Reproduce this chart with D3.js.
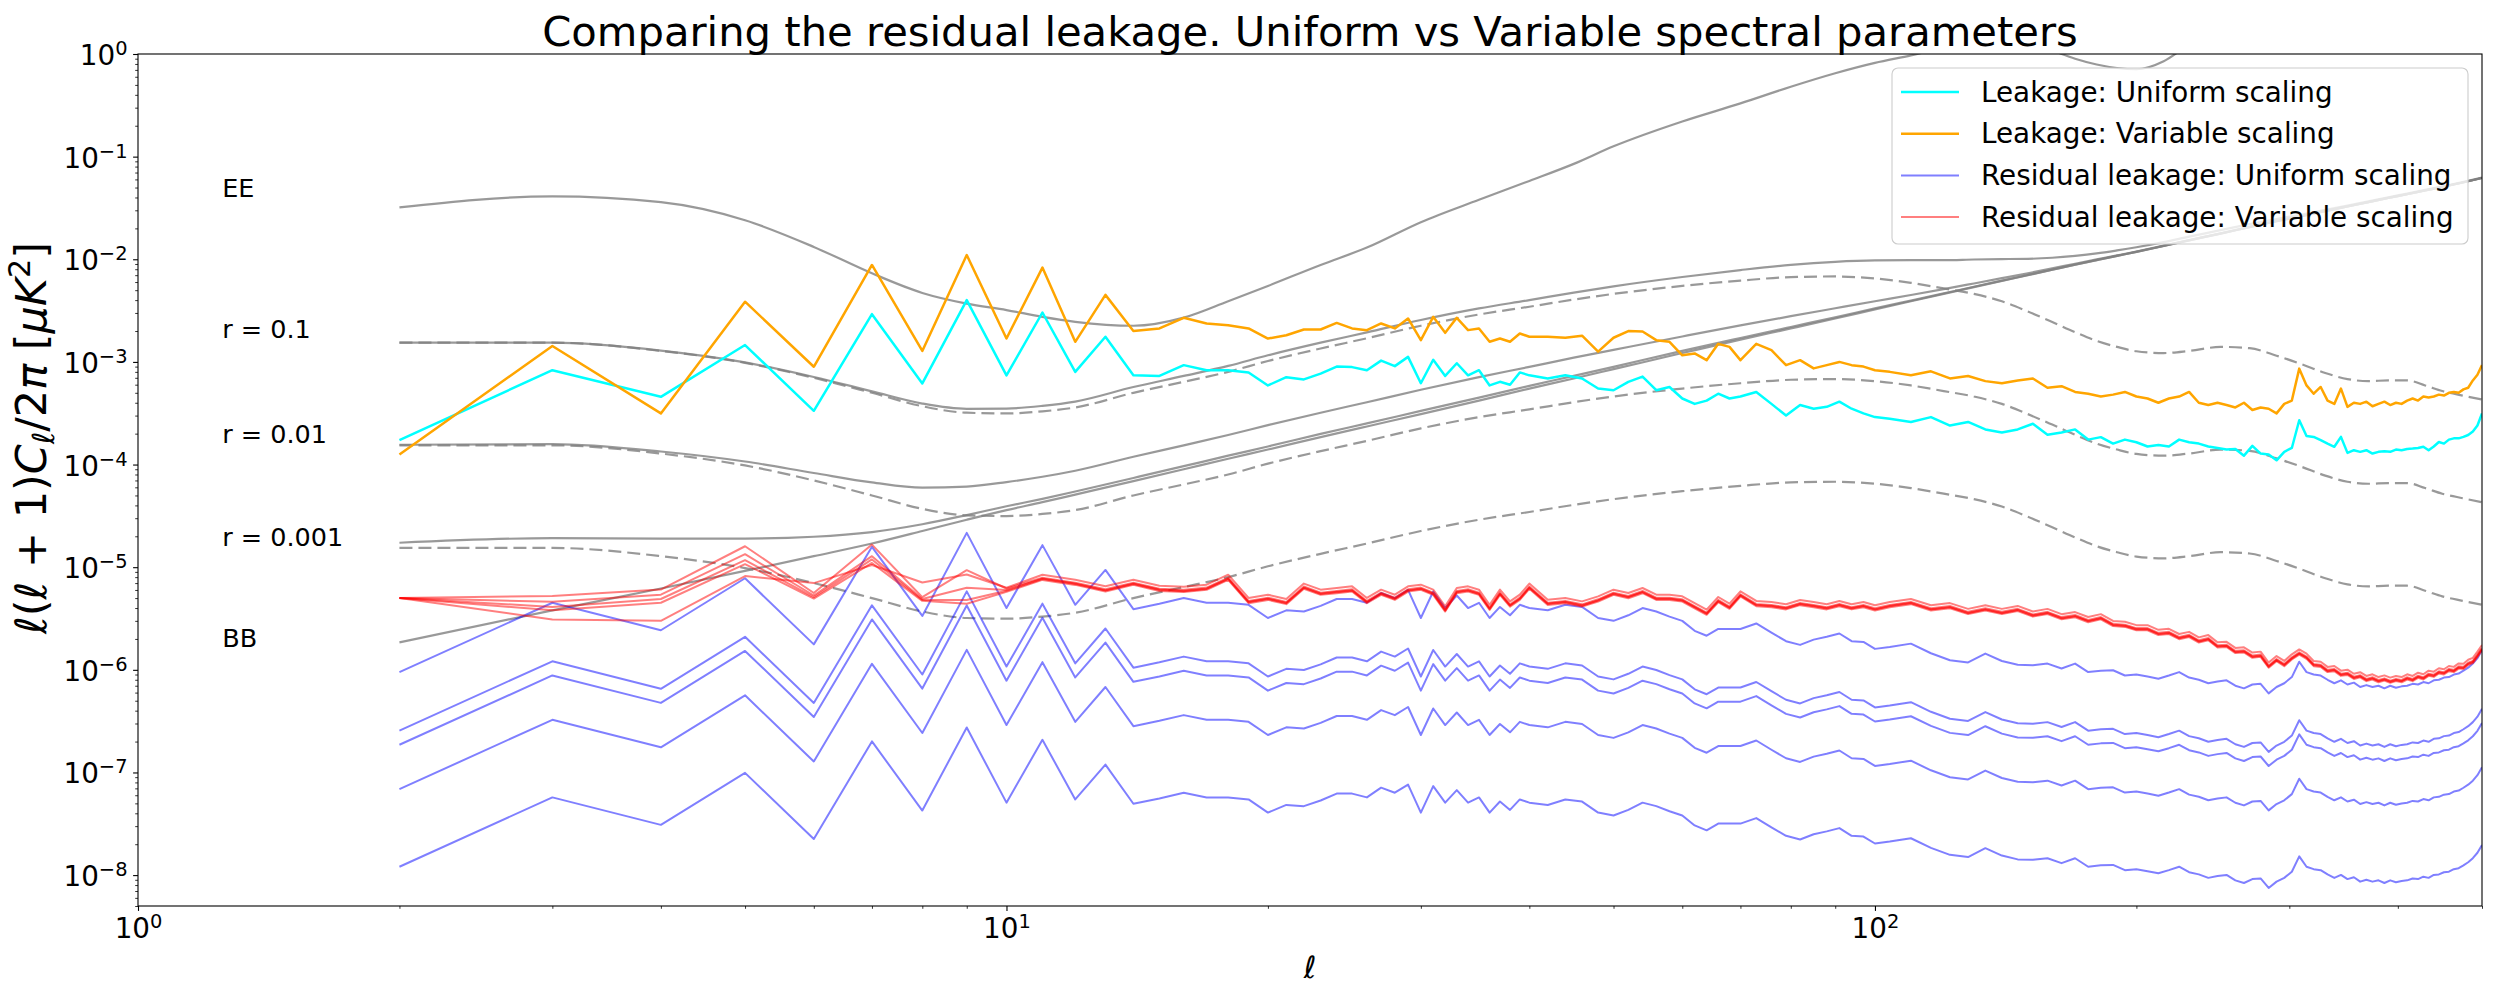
<!DOCTYPE html>
<html>
<head>
<meta charset="utf-8">
<script src="https://cdn.jsdelivr.net/npm/d3@7"></script>
<style>
body { margin: 0; background: #fff; }
svg { font-family: "DejaVu Sans", sans-serif; }
</style>
</head>
<body>
<svg id="chart"></svg>
<script>
// multipoles of the leakage spectra
let ell = [2,3,4,5,6,7,8,9,10,11,12,13,14,15,16,17,18,19,20,21,22,23,24,25,26,27,28,29,30,31,32,33,34,35,36,37,38,39,40,
  42,44,46,48,50,52,54,56,58,60,62,64,66,68,70,
  73,76,79,82,85,88,91,94,97,100,
  104,110,116,122,128,134,140,146,152,158,164,170,176,182,188,194,200,206,212,218,224,230,236,242,248,254,260,266,272,278,
  284,290,296,302,308,314,320,326,332,338,344,350,356,362,368,374,380,386,392,398,404,410,416,422,428,434,440,446,452,458,
  464,470,476,482,488,494,500];

let leakUniform = [1.73e-4,8.3e-4,4.57e-4,1.46e-3,3.34e-4,2.92e-3,6.17e-4,4.0e-3,7.4e-4,3.03e-3,8.0e-4,1.76e-3,7.4e-4,7.3e-4,9.3e-4,8.3e-4,8.3e-4,7.9e-4,5.9e-4,7.1e-4,
  6.75e-4,7.7e-4,9.0e-4,8.9e-4,8.3e-4,1.03e-3,9.1e-4,1.12e-3,6.2e-4,1.05e-3,7.3e-4,9.7e-4,7.4e-4,8.3e-4,5.9e-4,6.4e-4,6.0e-4,7.9e-4,7.4e-4,
  6.9e-4,7.4e-4,6.9e-4,5.5e-4,5.3e-4,6.4e-4,7.2e-4,5.3e-4,5.7e-4,4.4e-4,3.9e-4,4.2e-4,4.9e-4,4.4e-4,4.6e-4,
  5.1e-4,3.9e-4,3.0e-4,3.8e-4,3.5e-4,3.65e-4,4.1e-4,3.5e-4,3.15e-4,2.9e-4,
  2.8e-4,2.6e-4,2.9e-4,2.4e-4,2.6e-4,2.2e-4,2.05e-4,2.2e-4,2.5e-4,1.95e-4,2.05e-4,2.2e-4,1.75e-4,1.85e-4,1.6e-4,1.75e-4,1.65e-4,1.5e-4,1.55e-4,1.5e-4,
  1.75e-4,1.65e-4,1.6e-4,1.5e-4,1.45e-4,1.4e-4,1.42e-4,1.22e-4,1.52e-4,1.28e-4,1.25e-4,1.1e-4,1.33e-4,1.45e-4,2.7e-4,1.9e-4,1.86e-4,1.73e-4,1.6e-4,1.49e-4,
  1.86e-4,1.3e-4,1.38e-4,1.33e-4,1.38e-4,1.28e-4,1.33e-4,1.35e-4,1.33e-4,1.4e-4,1.38e-4,1.42e-4,1.43e-4,1.45e-4,1.49e-4,1.38e-4,1.5e-4,1.66e-4,1.6e-4,1.75e-4,
  1.8e-4,1.8e-4,1.86e-4,1.94e-4,2.1e-4,2.4e-4,3.15e-4];

let leakVariable = [1.25e-4,1.43e-3,3.15e-4,3.86e-3,8.97e-4,8.8e-3,1.28e-3,1.1e-2,1.69e-3,8.3e-3,1.57e-3,4.5e-3,2.0e-3,2.12e-3,2.69e-3,2.37e-3,2.28e-3,2.12e-3,1.69e-3,1.82e-3,
  2.07e-3,2.07e-3,2.4e-3,2.12e-3,2.04e-3,2.37e-3,2.12e-3,2.65e-3,1.63e-3,2.75e-3,1.92e-3,2.69e-3,2.04e-3,2.12e-3,1.57e-3,1.69e-3,1.57e-3,1.89e-3,1.76e-3,
  1.76e-3,1.72e-3,1.8e-3,1.26e-3,1.72e-3,2.0e-3,1.98e-3,1.63e-3,1.57e-3,1.16e-3,1.21e-3,1.04e-3,1.5e-3,1.4e-3,1.04e-3,
  1.5e-3,1.3e-3,9.3e-4,1.04e-3,8.65e-4,9.3e-4,1.0e-3,9.3e-4,9.0e-4,8.3e-4,
  8.0e-4,7.4e-4,8.1e-4,6.9e-4,7.3e-4,6.5e-4,6.2e-4,6.6e-4,6.9e-4,5.6e-4,5.8e-4,5.1e-4,4.9e-4,4.6e-4,4.8e-4,5.1e-4,4.6e-4,4.4e-4,4.0e-4,4.4e-4,
  4.6e-4,5.1e-4,4.0e-4,3.8e-4,4.0e-4,3.8e-4,3.6e-4,4.0e-4,3.4e-4,3.6e-4,3.5e-4,3.15e-4,3.9e-4,4.2e-4,8.6e-4,5.9e-4,4.9e-4,5.7e-4,4.2e-4,3.9e-4,
  5.5e-4,3.65e-4,4.0e-4,3.9e-4,4.1e-4,3.7e-4,3.9e-4,4.1e-4,3.8e-4,4.0e-4,3.9e-4,4.2e-4,4.4e-4,4.2e-4,4.6e-4,4.5e-4,4.6e-4,4.8e-4,4.7e-4,5.0e-4,
  5.1e-4,5.0e-4,5.4e-4,5.6e-4,6.6e-4,7.5e-4,9.3e-4];

// residual leakage, uniform scaling: the five cases are copies of one shape
let residUniformTop = [9.5e-7,4.5e-6,2.43e-6,7.8e-6,1.77e-6,1.58e-5,3.35e-6,2.16e-5,4.0e-6,1.64e-5,4.3e-6,9.4e-6,3.9e-6,4.4e-6,5.0e-6,4.5e-6,4.5e-6,4.3e-6,3.2e-6,3.8e-6,
  3.7e-6,4.2e-6,4.9e-6,4.9e-6,4.5e-6,5.6e-6,5.0e-6,6.0e-6,3.2e-6,5.8e-6,4.0e-6,5.3e-6,4.0e-6,4.5e-6,3.2e-6,4.1e-6,3.4e-6,4.3e-6,4.0e-6,
  3.8e-6,4.3e-6,4.1e-6,3.2e-6,3.0e-6,3.4e-6,4.0e-6,3.7e-6,3.3e-6,3.0e-6,2.4e-6,2.15e-6,2.5e-6,2.5e-6,2.5e-6,
  2.83e-6,2.3e-6,1.9e-6,1.75e-6,1.97e-6,2.1e-6,2.26e-6,1.9e-6,1.87e-6,1.6e-6,
  1.67e-6,1.8e-6,1.45e-6,1.24e-6,1.18e-6,1.44e-6,1.22e-6,1.12e-6,1.11e-6,1.15e-6,1.03e-6,1.15e-6,9.5e-7,9.8e-7,9.9e-7,8.8e-7,9.0e-7,8.6e-7,8.2e-7,8.8e-7,
  9.5e-7,8.4e-7,8.0e-7,7.4e-7,7.7e-7,7.9e-7,7.0e-7,6.6e-7,7.2e-7,7.3e-7,5.9e-7,6.8e-7,7.4e-7,8.5e-7,1.2e-6,9.5e-7,9.0e-7,8.8e-7,8.0e-7,7.4e-7,
  7.9e-7,7.2e-7,7.5e-7,6.8e-7,7.1e-7,6.8e-7,7.0e-7,6.6e-7,7.0e-7,6.7e-7,6.9e-7,7.0e-7,7.3e-7,7.2e-7,7.6e-7,7.4e-7,7.9e-7,8.0e-7,8.4e-7,8.5e-7,
  9.0e-7,9.2e-7,9.8e-7,1.05e-6,1.15e-6,1.3e-6,1.55e-6];
let residUniformScale = [1, 0.269, 0.196, 0.0724, 0.0127];

// residual leakage, variable scaling: five cases, read one by one for l <= 10
let residVariableLow = [
  [5.0e-6,3.1e-6,3.0e-6,8.2e-6,7.0e-6,1.05e-5,7.1e-6,8.5e-6,6.3e-6],
  [5.0e-6,5.25e-6,6.05e-6,1.6e-5,5.6e-6,1.66e-5,5.1e-6,9.35e-6,6.2e-6],
  [5.0e-6,4.6e-6,5.4e-6,1.34e-5,5.3e-6,1.28e-5,4.9e-6,6.3e-6,6.0e-6],
  [5.0e-6,4.1e-6,4.9e-6,1.17e-5,5.1e-6,1.19e-5,4.8e-6,4.8e-6,5.9e-6],
  [5.0e-6,3.8e-6,4.5e-6,1.07e-5,4.95e-6,1.1e-5,4.7e-6,4.4e-6,5.75e-6]
];
let residVariableMid = [5.0e-6,4.3e-6,4.8e-6,1.2e-5,5.5e-6,1.25e-5,5.2e-6,6.5e-6,6.0e-6,7.75e-6,6.93e-6,5.97e-6,6.93e-6,6.05e-6,5.9e-6,6.2e-6,7.75e-6,4.6e-6,4.95e-6,4.5e-6,
  6.35e-6,5.54e-6,5.75e-6,5.97e-6,4.6e-6,5.54e-6,4.95e-6,5.97e-6,6.2e-6,5.54e-6,3.81e-6,5.75e-6,5.97e-6,5.54e-6,3.95e-6,5.54e-6,4.26e-6,4.95e-6,6.35e-6,
  4.42e-6,4.6e-6,4.26e-6,4.77e-6,5.54e-6,5.14e-6,5.75e-6,4.95e-6,4.95e-6,4.77e-6,4.1e-6,3.54e-6,4.7e-6,4.05e-6,5.34e-6,
  4.3e-6,4.2e-6,4.0e-6,4.4e-6,4.2e-6,4.0e-6,4.3e-6,4.0e-6,4.2e-6,3.9e-6,
  4.2e-6,4.5e-6,3.9e-6,4.1e-6,3.6e-6,3.9e-6,3.6e-6,3.85e-6,3.4e-6,3.6e-6,3.2e-6,3.35e-6,3.0e-6,3.2e-6,2.75e-6,2.7e-6,2.5e-6,2.5e-6,2.25e-6,2.3e-6,
  2.05e-6,2.15e-6,1.9e-6,2.0e-6,1.7e-6,1.72e-6,1.5e-6,1.52e-6,1.35e-6,1.38e-6,1.08e-6,1.25e-6,1.12e-6,1.3e-6,1.45e-6,1.32e-6,1.12e-6,1.1e-6,9.8e-7,1.0e-6,
  9.0e-7,9.2e-7,8.4e-7,8.7e-7,8.0e-7,8.3e-7,7.8e-7,8.1e-7,7.7e-7,8.0e-7,7.8e-7,8.3e-7,8.0e-7,8.6e-7,8.3e-7,9.0e-7,8.8e-7,9.5e-7,9.3e-7,1.0e-6,
  9.8e-7,1.06e-6,1.05e-6,1.15e-6,1.2e-6,1.38e-6,1.6e-6];
let residVariableScale = [1.09, 1.02, 1.0, 0.99, 0.97];

// theory spectra
let ellTheory = [2,3,4,5,6,7,8,9,10,11,12,14,16,18,20,23,26,30,35,40,45,50,60,70,80,90,100,110,120,130,140,150,160,170,180,190,200,215,230,250,270,290,310,330,350,370,390,410,430,450,475,500];
let eeSpectrum = [3.2e-2,4.1e-2,3.6e-2,2.4e-2,1.32e-2,7.3e-3,4.7e-3,3.7e-3,3.2e-3,2.75e-3,2.46e-3,2.25e-3,2.7e-3,3.9e-3,5.5e-3,8.8e-3,1.3e-2,2.3e-2,3.8e-2,5.8e-2,
  8.5e-2,0.126,0.22,0.33,0.48,0.65,0.82,0.97,1.15,1.3,1.38,1.3,1.08,0.9,0.79,0.73,0.71,0.85,1.25,2.0,3.0,4.5,6,8,10,13,16,19,22,25,28,30];
let bbLensing = [1.85e-6,3.8e-6,6.2e-6,9.2e-6,1.28e-5,1.7e-5,2.25e-5,2.9e-5,3.6e-5,4.3e-5,5.1e-5,6.9e-5,9.0e-5,1.14e-4,1.4e-4,1.85e-4,2.35e-4,3.1e-4,4.2e-4,5.5e-4,
  6.9e-4,8.5e-4,1.22e-3,1.65e-3,2.12e-3,2.65e-3,3.25e-3,3.9e-3,4.6e-3,5.35e-3,6.15e-3,7.0e-3,7.9e-3,8.85e-3,9.8e-3,1.08e-2,1.18e-2,1.35e-2,1.53e-2,1.78e-2,
  2.06e-2,2.35e-2,2.63e-2,2.95e-2,3.27e-2,3.6e-2,3.95e-2,4.3e-2,4.68e-2,5.07e-2,5.6e-2,6.2e-2];
let bbTensor1 = [1.54e-3,1.54e-3,1.28e-3,9.8e-4,7.0e-4,5.0e-4,3.7e-4,3.2e-4,3.15e-4,3.3e-4,3.6e-4,5.0e-4,6.4e-4,8.0e-4,1.02e-3,1.35e-3,1.7e-3,2.25e-3,2.9e-3,3.45e-3,
  4.05e-3,4.6e-3,5.5e-3,6.2e-3,6.7e-3,6.8e-3,6.5e-3,5.9e-3,5.2e-3,4.6e-3,3.9e-3,3.1e-3,2.45e-3,1.95e-3,1.6e-3,1.4e-3,1.27e-3,1.22e-3,1.28e-3,1.4e-3,
  1.36e-3,1.15e-3,9.5e-4,7.8e-4,6.8e-4,6.5e-4,6.6e-4,6.6e-4,5.9e-4,5.2e-4,4.7e-4,4.3e-4];
let bbTensor01 = [1.54e-4,1.54e-4,1.28e-4,9.8e-5,7.0e-5,5.0e-5,3.7e-5,3.2e-5,3.15e-5,3.3e-5,3.6e-5,5.0e-5,6.4e-5,8.0e-5,1.02e-4,1.35e-4,1.7e-4,2.25e-4,2.9e-4,3.45e-4,
  4.05e-4,4.6e-4,5.5e-4,6.2e-4,6.7e-4,6.8e-4,6.5e-4,5.9e-4,5.2e-4,4.6e-4,3.9e-4,3.1e-4,2.45e-4,1.95e-4,1.6e-4,1.4e-4,1.27e-4,1.22e-4,1.28e-4,1.4e-4,
  1.36e-4,1.15e-4,9.5e-5,7.8e-5,6.8e-5,6.5e-5,6.6e-5,6.6e-5,5.9e-5,5.2e-5,4.7e-5,4.3e-5];
let bbTensor001 = [1.54e-5,1.54e-5,1.28e-5,9.8e-6,7.0e-6,5.0e-6,3.7e-6,3.2e-6,3.15e-6,3.3e-6,3.6e-6,5.0e-6,6.4e-6,8.0e-6,1.02e-5,1.35e-5,1.7e-5,2.25e-5,2.9e-5,3.45e-5,
  4.05e-5,4.6e-5,5.5e-5,6.2e-5,6.7e-5,6.8e-5,6.5e-5,5.9e-5,5.2e-5,4.6e-5,3.9e-5,3.1e-5,2.45e-5,1.95e-5,1.6e-5,1.4e-5,1.27e-5,1.22e-5,1.28e-5,1.4e-5,
  1.36e-5,1.15e-5,9.5e-6,7.8e-6,6.8e-6,6.5e-6,6.6e-6,6.6e-6,5.9e-6,5.2e-6,4.7e-6,4.3e-6];
let bbTotal1 = [1.54e-3,1.54e-3,1.29e-3,9.9e-4,7.13e-4,5.17e-4,3.93e-4,3.49e-4,3.51e-4,3.73e-4,4.11e-4,5.69e-4,7.3e-4,9.14e-4,1.16e-3,1.54e-3,1.94e-3,2.56e-3,3.32e-3,4.0e-3,
  4.74e-3,5.45e-3,6.72e-3,7.85e-3,8.82e-3,9.45e-3,9.75e-3,9.8e-3,9.8e-3,9.95e-3,1.005e-2,1.01e-2,1.035e-2,1.08e-2,1.14e-2,1.22e-2,1.31e-2,1.47e-2,1.66e-2,1.92e-2,
  2.2e-2,2.47e-2,2.73e-2,3.03e-2,3.34e-2,3.67e-2,4.02e-2,4.37e-2,4.74e-2,5.12e-2,5.65e-2,6.24e-2];
let bbTotal01 = [1.56e-4,1.58e-4,1.34e-4,1.07e-4,8.28e-5,6.7e-5,5.95e-5,6.1e-5,6.75e-5,7.6e-5,8.7e-5,1.19e-4,1.54e-4,1.94e-4,2.42e-4,3.2e-4,4.05e-4,5.35e-4,7.1e-4,8.95e-4,
  1.1e-3,1.31e-3,1.77e-3,2.27e-3,2.79e-3,3.33e-3,3.9e-3,4.49e-3,5.12e-3,5.81e-3,6.54e-3,7.31e-3,8.15e-3,9.05e-3,9.96e-3,1.09e-2,1.19e-2,1.36e-2,1.54e-2,1.79e-2,
  2.07e-2,2.36e-2,2.64e-2,2.96e-2,3.28e-2,3.61e-2,3.96e-2,4.31e-2,4.69e-2,5.08e-2,5.6e-2,6.2e-2];
let bbTotal001 = [1.73e-5,1.92e-5,1.9e-5,1.9e-5,1.98e-5,2.2e-5,2.62e-5,3.22e-5,3.92e-5,4.63e-5,5.46e-5,7.4e-5,9.64e-5,1.22e-4,1.5e-4,1.99e-4,2.52e-4,3.33e-4,4.49e-4,5.85e-4,
  7.31e-4,8.96e-4,1.28e-3,1.71e-3,2.19e-3,2.72e-3,3.32e-3,3.96e-3,4.65e-3,5.4e-3,6.19e-3,7.03e-3,7.92e-3,8.87e-3,9.82e-3,1.08e-2,1.18e-2,1.35e-2,1.53e-2,1.78e-2,
  2.06e-2,2.35e-2,2.63e-2,2.95e-2,3.27e-2,3.6e-2,3.95e-2,4.3e-2,4.68e-2,5.07e-2,5.6e-2,6.2e-2];

// annotations and ticks
let annotations = [
  {text: "EE", l: 1.25, v: 4.0e-2},
  {text: "r = 0.1", l: 1.25, v: 1.7e-3},
  {text: "r = 0.01", l: 1.25, v: 1.62e-4},
  {text: "r = 0.001", l: 1.25, v: 1.6e-5},
  {text: "BB", l: 1.25, v: 1.67e-6}
];
let legendLabels = ["Leakage: Uniform scaling", "Leakage: Variable scaling", "Residual leakage: Uniform scaling", "Residual leakage: Variable scaling"];
let xMajorTicks = [1, 10, 100];
let xTickExp = ["0", "1", "2"];
let xMinorTicks = [2,3,4,5,6,7,8,9,20,30,40,50,60,70,80,90,200,300,400,500];
let yMajorTicks = [1, 1e-1, 1e-2, 1e-3, 1e-4, 1e-5, 1e-6, 1e-7, 1e-8];
let yTickExp = ["0", "\u22121", "\u22122", "\u22123", "\u22124", "\u22125", "\u22126", "\u22127", "\u22128"];
let yMinorTicks = [];
for (let e = -9; e < 0; e++) {
  for (let k = 2; k <= 9; k++) {
    let v = k * Math.pow(10, e);
    if (v >= 5e-9 && v < 1) yMinorTicks.push(v);
  }
}

let width = 2500;
let height = 1000;
let plot = {left: 138, right: 2482, top: 54, bottom: 906};
let tickFont = 27.8;

let svg = d3.select("#chart").attr("width", width).attr("height", height);

let xScale = d3.scaleLog().domain([1, 500]).range([plot.left, plot.right]);
let yScale = d3.scaleLog().domain([5e-9, 1]).range([plot.bottom, plot.top]);

svg.append("clipPath").attr("id", "plot-clip")
  .append("rect")
  .attr("x", plot.left).attr("y", plot.top)
  .attr("width", plot.right - plot.left).attr("height", plot.bottom - plot.top);

let plotArea = svg.append("g").attr("clip-path", "url(#plot-clip)");

let pairs = (xs, ys) => xs.map((l, i) => [l, ys[i]]);

let roughLine = d3.line()
  .x(d => xScale(d[0]))
  .y(d => yScale(d[1]));

let smoothLine = d3.line()
  .curve(d3.curveMonotoneX)
  .x(d => xScale(d[0]))
  .y(d => yScale(d[1]));

let drawLine = (xs, ys, style) => {
  plotArea.append("path")
    .datum(pairs(xs, ys))
    .attr("d", style.smooth ? smoothLine : roughLine)
    .attr("fill", "none")
    .attr("stroke", style.color)
    .attr("stroke-opacity", style.alpha)
    .attr("stroke-width", style.width)
    .attr("stroke-dasharray", style.dash || null)
    .attr("stroke-linejoin", "round");
};

// theory curves
let graySolid = {color: "gray", alpha: 0.8, width: 2.2, smooth: true};
let grayDashed = {color: "gray", alpha: 0.8, width: 2.2, smooth: true, dash: "13,6"};
[eeSpectrum, bbTotal1, bbTotal01, bbTotal001, bbLensing].forEach(s => drawLine(ellTheory, s, graySolid));
[bbTensor1, bbTensor01, bbTensor001].forEach(s => drawLine(ellTheory, s, grayDashed));

// leakage
drawLine(ell, leakUniform, {color: "cyan", alpha: 1, width: 2.5});
drawLine(ell, leakVariable, {color: "orange", alpha: 1, width: 2.5});

// residuals
residUniformScale.forEach(f => {
  drawLine(ell, residUniformTop.map(v => v * f), {color: "blue", alpha: 0.5, width: 2});
});
residVariableScale.forEach((f, k) => {
  let values = ell.map((l, i) => i < residVariableLow[k].length ? residVariableLow[k][i] : residVariableMid[i] * f);
  drawLine(ell, values, {color: "red", alpha: 0.5, width: 2});
});

// frame
svg.append("rect")
  .attr("x", plot.left).attr("y", plot.top)
  .attr("width", plot.right - plot.left).attr("height", plot.bottom - plot.top)
  .attr("fill", "none").attr("stroke", "black").attr("stroke-width", 1.1);

let styleTicks = (g, w) => {
  g.select(".domain").remove();
  g.selectAll(".tick line").attr("stroke", "black").attr("stroke-width", w);
  g.selectAll(".tick text").remove();
};

svg.append("g")
  .attr("transform", "translate(0," + plot.bottom + ")")
  .call(d3.axisBottom(xScale).tickValues(xMinorTicks).tickSize(2.8).tickFormat(""))
  .call(g => styleTicks(g, 0.8));

let xMajor = svg.append("g")
  .attr("transform", "translate(0," + plot.bottom + ")")
  .call(d3.axisBottom(xScale).tickValues(xMajorTicks).tickSize(4.9).tickFormat(""))
  .call(g => styleTicks(g, 1.1));

svg.append("g")
  .attr("transform", "translate(" + plot.left + ",0)")
  .call(d3.axisLeft(yScale).tickValues(yMinorTicks).tickSize(2.8).tickFormat(""))
  .call(g => styleTicks(g, 0.8));

let yMajor = svg.append("g")
  .attr("transform", "translate(" + plot.left + ",0)")
  .call(d3.axisLeft(yScale).tickValues(yMajorTicks).tickSize(4.9).tickFormat(""))
  .call(g => styleTicks(g, 1.1));

let powerLabel = (sel, exp) => {
  sel.append("tspan").text("10");
  sel.append("tspan").attr("dy", -10).attr("font-size", tickFont * 0.7).text(exp);
};

xMajor.selectAll(".tick").each(function(d, i) {
  let t = d3.select(this).append("text")
    .attr("y", 31.5)
    .attr("text-anchor", "middle")
    .attr("fill", "black")
    .attr("font-family", "DejaVu Sans")
    .attr("font-size", tickFont);
  powerLabel(t, xTickExp[i]);
});

yMajor.selectAll(".tick").each(function(d, i) {
  let t = d3.select(this).append("text")
    .attr("x", -10.5)
    .attr("y", 10.5)
    .attr("text-anchor", "end")
    .attr("fill", "black")
    .attr("font-family", "DejaVu Sans")
    .attr("font-size", tickFont);
  powerLabel(t, yTickExp[i]);
});

// title and axis labels
svg.append("text")
  .attr("x", (plot.left + plot.right) / 2)
  .attr("y", 45.5)
  .attr("text-anchor", "middle")
  .attr("font-size", 41.7)
  .text("Comparing the residual leakage. Uniform vs Variable spectral parameters");

svg.append("text")
  .attr("x", (plot.left + plot.right) / 2)
  .attr("y", 978)
  .attr("text-anchor", "middle")
  .attr("font-size", 30.6)
  .attr("font-style", "italic")
  .text("\u2113");

let yFont = 43;
let yLabel = svg.append("text")
  .attr("transform", "translate(46,438) rotate(-90)")
  .attr("text-anchor", "middle")
  .attr("font-size", yFont);
yLabel.append("tspan").attr("font-style", "italic").text("\u2113");
yLabel.append("tspan").text("(");
yLabel.append("tspan").attr("font-style", "italic").text("\u2113");
yLabel.append("tspan").text(" + 1)");
yLabel.append("tspan").attr("font-style", "italic").text("C");
yLabel.append("tspan").attr("font-style", "italic").attr("font-size", yFont * 0.7).attr("dy", 8).text("\u2113");
yLabel.append("tspan").attr("dy", -8).text("/2");
yLabel.append("tspan").attr("font-style", "italic").text("\u03c0");
yLabel.append("tspan").text(" [");
yLabel.append("tspan").attr("font-style", "italic").text("\u03bcK");
yLabel.append("tspan").attr("font-size", yFont * 0.7).attr("dy", -16).text("2");
yLabel.append("tspan").attr("dy", 16).text("]");

// text annotations
svg.append("g").selectAll("text")
  .data(annotations)
  .enter()
  .append("text")
  .attr("x", d => xScale(d.l))
  .attr("y", d => yScale(d.v))
  .attr("font-size", 25.5)
  .text(d => d.text);

// legend
let legendStyle = [
  {color: "cyan", alpha: 1, width: 2.5},
  {color: "orange", alpha: 1, width: 2.5},
  {color: "blue", alpha: 0.5, width: 2},
  {color: "red", alpha: 0.5, width: 2}
];
let legend = svg.append("g");
legend.append("rect")
  .attr("x", 1892).attr("y", 68)
  .attr("width", 576).attr("height", 176)
  .attr("rx", 6)
  .attr("fill", "white").attr("fill-opacity", 0.8)
  .attr("stroke", "#cccccc").attr("stroke-width", 1.1);

legendLabels.forEach((label, i) => {
  let yRow = 92 + i * 41.7;
  legend.append("line")
    .attr("x1", 1901).attr("x2", 1959)
    .attr("y1", yRow).attr("y2", yRow)
    .attr("stroke", legendStyle[i].color)
    .attr("stroke-opacity", legendStyle[i].alpha)
    .attr("stroke-width", legendStyle[i].width);
  legend.append("text")
    .attr("x", 1981).attr("y", yRow + 9.5)
    .attr("font-size", tickFont)
    .text(label);
});
</script>
</body>
</html>
